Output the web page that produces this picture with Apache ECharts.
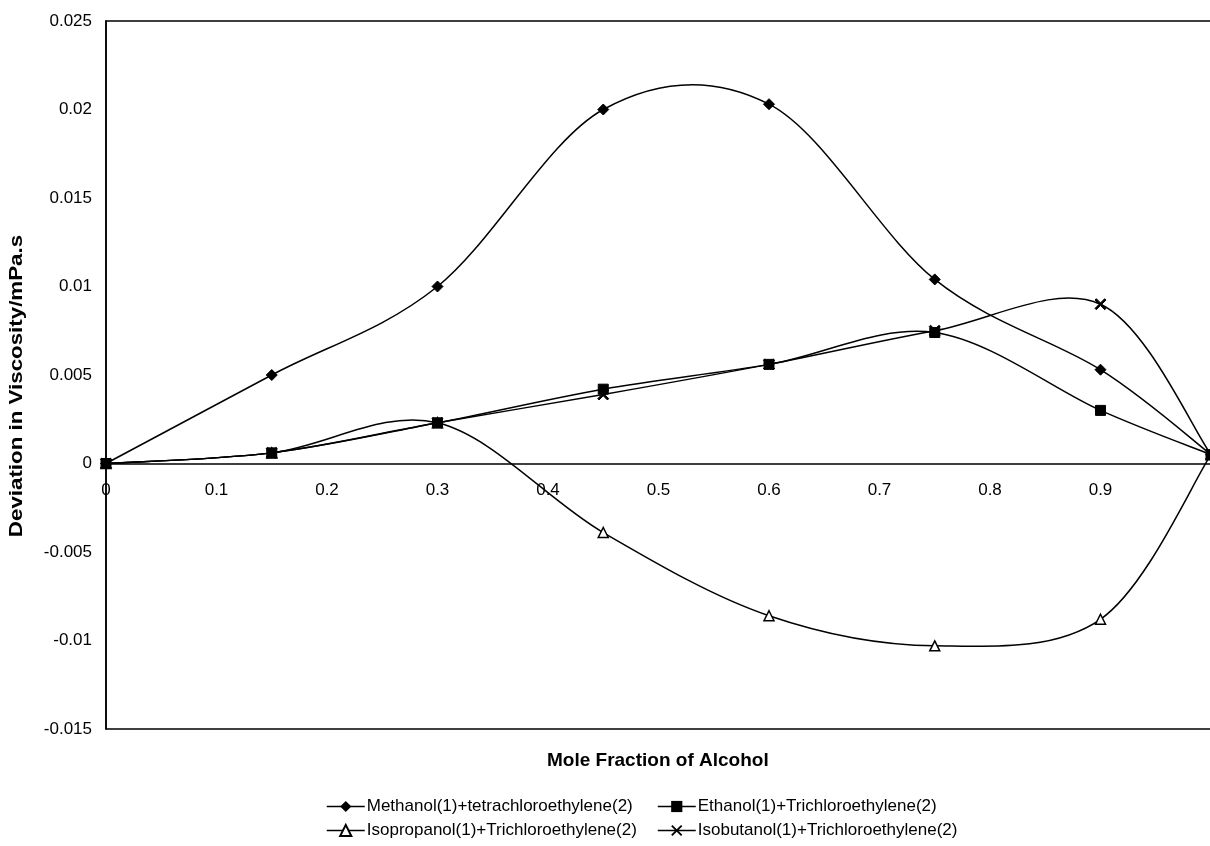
<!DOCTYPE html>
<html>
<head>
<meta charset="utf-8">
<script src="https://cdn.jsdelivr.net/npm/echarts@6/dist/echarts.min.js"></script>
<style>
html,body{margin:0;padding:0;background:#fff;}
#chart{width:1210px;height:846px;}
</style>
</head>
<body>
<div id="chart"></div>
<script>
const xValues = [0, 0.15, 0.3, 0.45, 0.6, 0.75, 0.9, 1.0];
const methanol = [0, 0.005, 0.01, 0.02, 0.0203, 0.0104, 0.0053, 0.0005];
const ethanol = [0, 0.0006, 0.0023, 0.0042, 0.0056, 0.0074, 0.003, 0.0005];
const isopropanol = [0, 0.0006, 0.0023, -0.0039, -0.0086, -0.0103, -0.0088, 0.0005];
const isobutanol = [0, 0.0006, 0.0023, 0.0039, 0.0056, 0.0075, 0.009, 0.0005];
const seriesNames = [
  'Methanol(1)+tetrachloroethylene(2)',
  'Ethanol(1)+Trichloroethylene(2)',
  'Isopropanol(1)+Trichloroethylene(2)',
  'Isobutanol(1)+Trichloroethylene(2)'
];
const xTitle = 'Mole Fraction of Alcohol';
const yTitle = 'Deviation in Viscosity/mPa.s';
const yTicks = { min: -0.015, max: 0.025, interval: 0.005 };
const xTicks = { min: 0, max: 1, interval: 0.1 };

const FONT = "'Liberation Sans', Arial, Helvetica, sans-serif";
const GRID = { left: 106, right: -1, top: 21, bottom: 117 };
const PLOT_H = 846 - GRID.top - GRID.bottom;
// distance from the bottom of the plot up to the y = 0 line (x axis crosses there)
const zeroOffset = -PLOT_H * (0 - yTicks.min) / (yTicks.max - yTicks.min);

const pair = arr => arr.map((v, i) => [xValues[i], v]);
const crossPath = 'path://M0,1.2L1.2,0L5,3.8L8.8,0L10,1.2L6.2,5L10,8.8L8.8,10L5,6.2L1.2,10L0,8.8L3.8,5Z';

// Smoothed curve (Excel-like Catmull-Rom Bezier) drawn through the library's coordinate system
function curveSeries(arr, name, z) {
  return {
    type: 'custom', name: name + ' curve', data: pair(arr), z: z, silent: true,
    encode: { x: 0, y: 1 },
    renderItem: function (params, api) {
      const i = params.dataIndex;
      if (i >= arr.length - 1) return null;
      const pts = arr.map((v, k) => api.coord([xValues[k], v]));
      const p0 = pts[Math.max(i - 1, 0)], p1 = pts[i], p2 = pts[i + 1], p3 = pts[Math.min(i + 2, pts.length - 1)];
      const t = 1 / 6;
      return {
        type: 'bezierCurve',
        shape: {
          x1: p1[0], y1: p1[1], x2: p2[0], y2: p2[1],
          cpx1: p1[0] + (p2[0] - p0[0]) * t, cpy1: p1[1] + (p2[1] - p0[1]) * t,
          cpx2: p2[0] - (p3[0] - p1[0]) * t, cpy2: p2[1] - (p3[1] - p1[1]) * t
        },
        style: { stroke: '#000', lineWidth: 1.5, fill: 'none' }
      };
    }
  };
}

const hiddenLine = { color: '#000', width: 1.5, opacity: 0 };
const legendBase = {
  orient: 'vertical', top: 793, itemWidth: 38, itemHeight: 14, itemGap: 7,
  lineStyle: { color: '#000', width: 1.5, opacity: 1 },
  textStyle: { fontFamily: FONT, fontSize: 17, color: '#000', padding: [0, 0, 0, -3] }
};

const chart = echarts.init(document.getElementById('chart'), null, { renderer: 'canvas' });
chart.setOption({
  backgroundColor: '#fff',
  animation: false,
  textStyle: { fontFamily: FONT, color: '#000' },
  grid: Object.assign({ show: true, borderColor: '#000', borderWidth: 1.5, backgroundColor: 'transparent', outerBoundsMode: 'none', containLabel: false }, GRID),
  legend: [
    Object.assign({}, legendBase, { data: [seriesNames[0], seriesNames[2]], left: 321 }),
    Object.assign({}, legendBase, { data: [seriesNames[1], seriesNames[3]], left: 652 })
  ],
  graphic: [
    {
      type: 'text', left: 547, top: 751, z: 10,
      style: { text: xTitle, font: "bold 19px " + FONT, fill: '#000' }
    },
    {
      type: 'text', x: 8, y: 386, rotation: Math.PI / 2, scaleX: 1.24, z: 10,
      style: { text: yTitle, font: "bold 18px " + FONT, fill: '#000', align: 'center', verticalAlign: 'top' }
    }
  ],
  xAxis: {
    type: 'value', min: xTicks.min, max: xTicks.max, interval: xTicks.interval,
    position: 'bottom', offset: zeroOffset,
    axisLine: { onZero: false, lineStyle: { color: '#000', width: 1.5 } },
    axisTick: { show: false },
    splitLine: { show: false },
    axisLabel: {
      fontFamily: FONT, fontSize: 17, color: '#000', margin: 18,
      formatter: v => (v >= 0.999 ? '' : String(Math.round(v * 10) / 10))
    }
  },
  yAxis: {
    type: 'value', min: yTicks.min, max: yTicks.max, interval: yTicks.interval,
    axisLine: { show: true, onZero: false, lineStyle: { color: '#000', width: 1.5 } },
    axisTick: { show: false },
    splitLine: { show: false },
    axisLabel: {
      fontFamily: FONT, fontSize: 17, color: '#000', margin: 14,
      formatter: v => String(Math.round(v * 1000) / 1000)
    }
  },
  series: [
    curveSeries(methanol, seriesNames[0], 4),
    curveSeries(ethanol, seriesNames[1], 3),
    curveSeries(isopropanol, seriesNames[2], 2),
    curveSeries(isobutanol, seriesNames[3], 2),
    {
      name: seriesNames[0], type: 'line', data: pair(methanol), z: 8,
      symbol: 'diamond', symbolSize: 11, showAllSymbol: true,
      lineStyle: hiddenLine, itemStyle: { color: '#000', borderColor: '#000' }
    },
    {
      name: seriesNames[1], type: 'line', data: pair(ethanol), z: 7,
      symbol: 'rect', symbolSize: 10, showAllSymbol: true,
      lineStyle: hiddenLine, itemStyle: { color: '#000', borderColor: '#000' }
    },
    {
      name: seriesNames[2], type: 'line', data: pair(isopropanol), z: 5,
      symbol: 'triangle', symbolSize: 10, showAllSymbol: true,
      lineStyle: hiddenLine, itemStyle: { color: '#fff', borderColor: '#000', borderWidth: 1.5 }
    },
    {
      name: seriesNames[3], type: 'line', data: pair(isobutanol), z: 6,
      symbol: crossPath, symbolSize: 11, showAllSymbol: true,
      lineStyle: hiddenLine, itemStyle: { color: '#000', borderColor: '#000' }
    }
  ]
});
</script>
</body>
</html>
